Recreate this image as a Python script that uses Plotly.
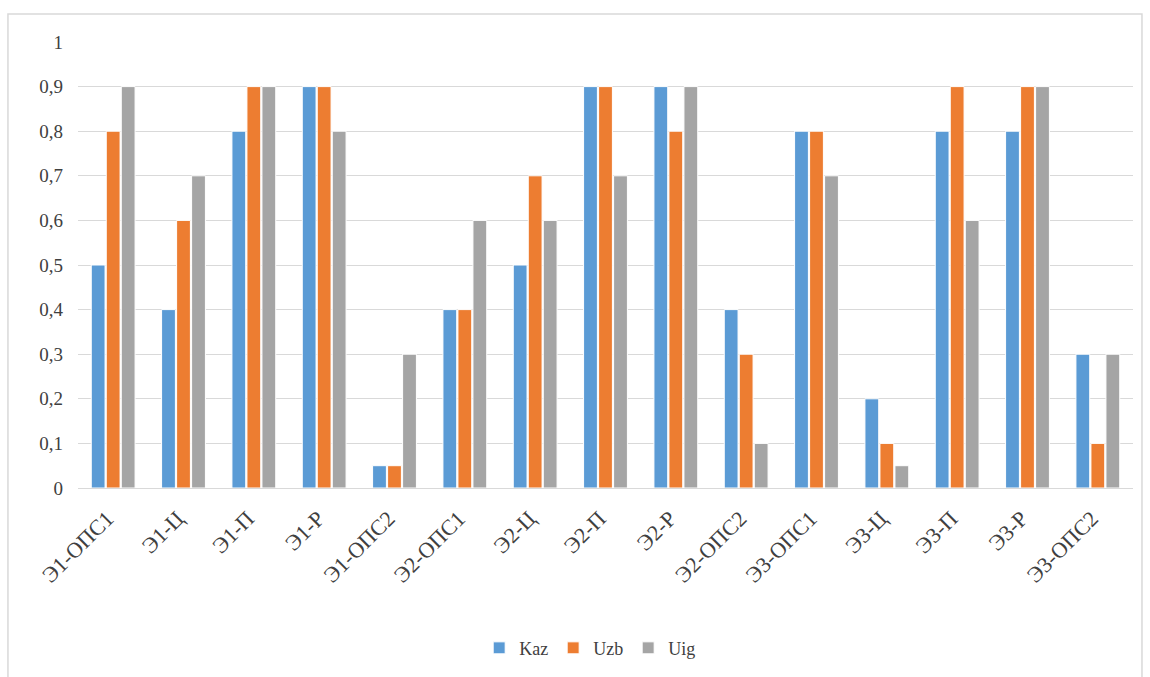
import plotly.graph_objects as go

categories = ["Э1-ОПС1", "Э1-Ц", "Э1-П", "Э1-Р", "Э1-ОПС2", "Э2-ОПС1", "Э2-Ц", "Э2-П",
              "Э2-Р", "Э2-ОПС2", "Э3-ОПС1", "Э3-Ц", "Э3-П", "Э3-Р", "Э3-ОПС2"]
kaz = [0.5, 0.4, 0.8, 0.9, 0.05, 0.4, 0.5, 0.9, 0.9, 0.4, 0.8, 0.2, 0.8, 0.8, 0.3]
uzb = [0.8, 0.6, 0.9, 0.9, 0.05, 0.4, 0.7, 0.9, 0.8, 0.3, 0.8, 0.1, 0.9, 0.9, 0.1]
uig = [0.9, 0.7, 0.9, 0.8, 0.3, 0.6, 0.6, 0.7, 0.9, 0.1, 0.7, 0.05, 0.6, 0.9, 0.3]
series_names = ["Kaz", "Uzb", "Uig"]
colors = ["#5B9BD5", "#ED7D31", "#A5A5A5"]
tick_vals = [0, 0.1, 0.2, 0.3, 0.4, 0.5, 0.6, 0.7, 0.8, 0.9, 1]
tick_text = ["0", "0,1", "0,2", "0,3", "0,4", "0,5", "0,6", "0,7", "0,8", "0,9", "1"]

fig = go.Figure()
for name, vals, col in zip(series_names, [kaz, uzb, uig], colors):
    fig.add_trace(go.Bar(x=categories, y=vals, name=name, marker_color=col,
                         marker_line_color="white", marker_line_width=1))

font = "Liberation Serif"
fig.update_layout(
    width=1150, height=677,
    margin=dict(l=78, r=17, t=42, b=188),
    paper_bgcolor="white", plot_bgcolor="white",
    barmode="group", bargap=0.36, bargroupgap=0.08,
    font=dict(family=font, size=17, color="#404040"),
    showlegend=True,
    legend=dict(orientation="h", x=0.485, xanchor="center", y=-0.356, yanchor="middle",
                font=dict(family=font, size=18, color="#404040"), itemwidth=30,
                traceorder="normal"),
    xaxis=dict(tickangle=-45, showgrid=False, showline=True, linecolor="#D9D9D9",
               linewidth=1, ticks="", ticklabelstandoff=8, ticklabelshift=-6,
               tickfont=dict(family=font, size=22, color="#404040")),
    yaxis=dict(range=[0, 1.0], tickvals=tick_vals, ticktext=tick_text, showgrid=True,
               gridcolor="#D9D9D9", gridwidth=1, zeroline=False, showline=False,
               ticks="", ticklen=0, tickfont=dict(family=font, size=19, color="#404040")),
    shapes=[dict(type="rect", xref="paper", yref="paper",
                 x0=-0.0664, x1=1.0085, y0=-0.45, y1=1.0626,
                 line=dict(color="#D9D9D9", width=1.5), fillcolor="rgba(0,0,0,0)", layer="below")],
)
fig.update_yaxes(ticklabelstandoff=14)
fig.write_html("out.html", post_script="document.body.style.margin='0';",
               config={"displayModeBar": False})
